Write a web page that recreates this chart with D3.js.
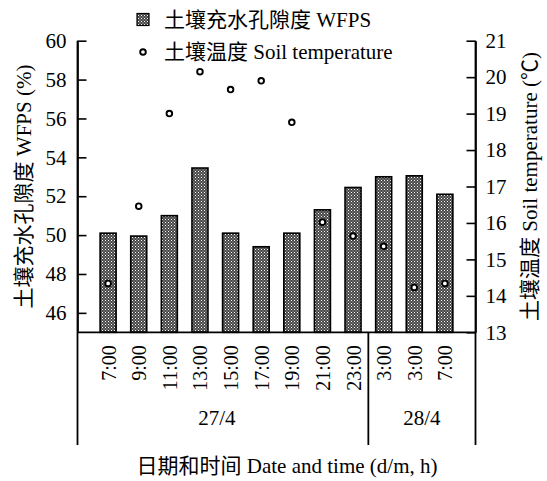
<!DOCTYPE html>
<html>
<head>
<meta charset="utf-8">
<script src="https://cdn.jsdelivr.net/npm/d3@7"></script>
<style>
  body { margin: 0; background: #fff; }
  svg text { font-family: "Liberation Serif", "Noto Sans CJK SC", serif; font-size: 21px; fill: #000; }
</style>
</head>
<body>
<script>
var width  = 547;
var height = 481;

// data
var times      = ['7:00', '9:00', '11:00', '13:00', '15:00', '17:00', '19:00', '21:00', '23:00', '3:00', '3:00', '7:00'];
var wfps       = [50.1, 49.95, 51.0, 53.45, 50.1, 49.4, 50.1, 51.3, 52.45, 53.0, 53.05, 52.1];
var soilTemp   = [14.34, 16.46, 19.0, 20.15, 19.66, 19.9, 18.76, 16.02, 15.64, 15.36, 14.23, 14.34];
var dateLabels = ['27/4', '28/4'];
var dateCounts = [9, 3];
var leftTicks  = [46, 48, 50, 52, 54, 56, 58, 60];
var rightTicks = [13, 14, 15, 16, 17, 18, 19, 20, 21];

var plotLeft = 77.5, plotRight = 475.5, plotTop = 40.7, plotBottom = 332.3, tableBottom = 445;

var svg = d3.select('body')
            .append('svg')
            .attr('width', width)
            .attr('height', height);

// bar texture: dark grey with fine light dots
var pat = svg.append('defs').append('pattern')
             .attr('id', 'dots')
             .attr('patternUnits', 'userSpaceOnUse')
             .attr('width', 3)
             .attr('height', 3);
pat.append('rect').attr('width', 3).attr('height', 3).attr('fill', '#474747');
pat.append('rect').attr('x', 0).attr('y', 0).attr('width', 1).attr('height', 1).attr('fill', '#fff');
pat.append('rect').attr('x', 1.5).attr('y', 1.5).attr('width', 1).attr('height', 1).attr('fill', '#c8c8c8');

var x = d3.scalePoint()
          .domain(d3.range(times.length))
          .range([plotLeft, plotRight])
          .padding(1);

var yL = d3.scaleLinear().domain([45, 60]).range([plotBottom, plotTop]);
var yR = d3.scaleLinear().domain([13, 21]).range([plotBottom, plotTop]);

var barW = 16;

svg.selectAll('rect.bar')
   .data(wfps)
   .enter()
   .append('rect')
   .attr('class', 'bar')
   .attr('x', function(d, i){ return x(i) - barW / 2; })
   .attr('y', function(d){ return yL(d); })
   .attr('width', barW)
   .attr('height', function(d){ return plotBottom - yL(d); })
   .attr('fill', 'url(#dots)')
   .attr('stroke', '#000')
   .attr('stroke-width', 1.6);

svg.selectAll('circle.pt')
   .data(soilTemp)
   .enter()
   .append('circle')
   .attr('class', 'pt')
   .attr('cx', function(d, i){ return x(i); })
   .attr('cy', function(d){ return yR(d); })
   .attr('r', 2.8)
   .attr('fill', '#fff')
   .attr('stroke', '#000')
   .attr('stroke-width', 1.9);

// left axis, ticks inward
var gL = svg.append('g')
            .attr('transform', 'translate(' + plotLeft + ',0)')
            .call(d3.axisLeft(yL).tickValues(leftTicks).tickSizeInner(-9).tickSizeOuter(0).tickPadding(11));

// right axis, ticks inward
var gR = svg.append('g')
            .attr('transform', 'translate(' + plotRight + ',0)')
            .call(d3.axisRight(yR).tickValues(rightTicks).tickSizeInner(-9).tickSizeOuter(0).tickPadding(10));

[gL, gR].forEach(function(g){
  g.attr('font-family', null).attr('font-size', null);
  g.selectAll('path, line').attr('stroke', '#000').attr('stroke-width', 1.6);
  g.selectAll('text').style('font-size', '21px');
});

// bottom axis with rotated time labels
var gX = svg.append('g')
            .attr('transform', 'translate(0,' + plotBottom + ')')
            .call(d3.axisBottom(x).tickSize(0).tickFormat(function(i){ return times[i]; }));
gX.attr('font-family', null).attr('font-size', null);
gX.select('.domain').attr('d', 'M' + plotLeft + ',0H' + plotRight).attr('stroke', '#000').attr('stroke-width', 1.8);
gX.selectAll('text')
  .attr('transform', 'rotate(-90)')
  .attr('x', -13)
  .attr('y', 0)
  .attr('dy', '0.35em')
  .style('text-anchor', 'end')
  .style('font-size', '20px');

// date table below the axis
var bounds = [plotLeft];
var acc = 0;
dateCounts.forEach(function(c, k){
  acc += c;
  bounds.push(k < dateCounts.length - 1 ? (x(acc - 1) + x(acc)) / 2 : plotRight);
});

svg.selectAll('line.sep')
   .data(bounds)
   .enter()
   .append('line')
   .attr('class', 'sep')
   .attr('x1', function(d){ return d; })
   .attr('x2', function(d){ return d; })
   .attr('y1', function(d, i){ return (i === 0 || i === bounds.length - 1) ? plotTop : plotBottom; })
   .attr('y2', tableBottom)
   .attr('stroke', '#000')
   .attr('stroke-width', 1.8);

svg.selectAll('text.date')
   .data(dateLabels)
   .enter()
   .append('text')
   .attr('class', 'date')
   .attr('x', function(d, i){ return (bounds[i] + bounds[i + 1]) / 2 - (i === 0 ? 6 : 0); })
   .attr('y', 425)
   .attr('text-anchor', 'middle')
   .text(function(d){ return d; });

// axis titles
svg.append('text')
   .attr('x', 287)
   .attr('y', 473)
   .attr('text-anchor', 'middle')
   .text('日期和时间 Date and time (d/m, h)');

svg.append('text')
   .attr('transform', 'translate(31,' + (plotTop + plotBottom) / 2 + ') rotate(-90)')
   .attr('text-anchor', 'middle')
   .text('土壤充水孔隙度 WFPS (%)');

svg.append('text')
   .attr('transform', 'translate(537,' + (plotTop + plotBottom) / 2 + ') rotate(-90)')
   .attr('text-anchor', 'middle')
   .text('土壤温度 Soil temperature (℃)');

// legend
svg.append('rect')
   .attr('x', 137)
   .attr('y', 13.5)
   .attr('width', 12)
   .attr('height', 12)
   .attr('fill', 'url(#dots)')
   .attr('stroke', '#000')
   .attr('stroke-width', 1.2);

svg.append('circle')
   .attr('cx', 143)
   .attr('cy', 52)
   .attr('r', 2.8)
   .attr('fill', '#fff')
   .attr('stroke', '#000')
   .attr('stroke-width', 1.9);

svg.append('text').attr('x', 164).attr('y', 27).text('土壤充水孔隙度 WFPS');
svg.append('text').attr('x', 164).attr('y', 59).text('土壤温度 Soil temperature');
</script>
</body>
</html>
